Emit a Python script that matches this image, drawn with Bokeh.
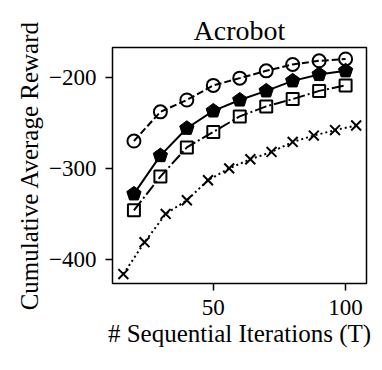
from bokeh.plotting import figure
from bokeh.embed import file_html
from bokeh.resources import INLINE
from bokeh.models import FixedTicker, Range1d

# data
x_main = [20, 30, 40, 50, 60, 70, 80, 90, 100]
y_circle = [-270, -238, -225, -209, -201, -193, -186, -182, -180]
y_pent = [-328, -286, -256, -237, -225, -215, -204, -197, -193]
y_square = [-346, -309, -277, -260, -243, -232, -224, -215, -209]
x_cross = [16, 24, 32, 40, 48, 56, 64, 72, 80, 88, 96, 104]
y_cross = [-416, -381, -350, -335, -313, -300, -290, -282, -271, -264, -258, -253]
x_ticks = [50, 100]
y_ticks = [-400, -300, -200]
y_tick_labels = ["\u2212400", "\u2212300", "\u2212200"]
x_label = "# Sequential Iterations (T)"
y_label = "Cumulative Average Reward"
title = "Acrobot"

FONT = "Liberation Serif"
X0, X1 = 11.9, 107.9
Y0, Y1 = -426.3, -167.4

p = figure(width=374, height=362, output_backend="svg", toolbar_location=None,
           x_range=Range1d(X0, X1), y_range=Range1d(Y0, Y1),
           min_border_left=112, min_border_right=8, min_border_top=47, min_border_bottom=79)

p.title.text = title
p.title.text_font = FONT
p.title.text_font_size = "28px"
p.title.text_font_style = "normal"
p.title.text_color = "black"
p.title.align = "center"
p.title.standoff = 4

p.xgrid.visible = False
p.ygrid.visible = False
p.outline_line_color = "black"
p.outline_line_width = 1.5
p.outline_line_alpha = 1

p.axis.axis_line_color = None
p.axis.minor_tick_line_color = None
p.axis.major_tick_line_color = "black"
p.axis.major_tick_line_width = 1.5
p.axis.major_tick_out = 7
p.axis.major_tick_in = 0
p.axis.major_label_text_font = FONT
p.axis.major_label_text_font_size = "23px"
p.axis.major_label_text_color = "black"
p.axis.axis_label_text_font = FONT
p.axis.axis_label_text_font_size = "25px"
p.axis.axis_label_text_font_style = "normal"
p.axis.axis_label_text_color = "black"

p.xaxis.ticker = FixedTicker(ticks=x_ticks)
p.yaxis.ticker = FixedTicker(ticks=y_ticks)
p.yaxis.major_label_overrides = dict(zip(y_ticks, y_tick_labels))
p.xaxis.axis_label = x_label
p.yaxis.axis_label = y_label
p.xaxis.major_label_standoff = 9
p.yaxis.major_label_standoff = 9
p.xaxis.axis_label_standoff = 2
p.yaxis.axis_label_standoff = 3

lw = 2
# circles dashed
p.line(x_main, y_circle, line_color="black", line_width=lw, line_dash="7 3")
p.scatter(x_main, y_circle, marker="circle", size=13, fill_color=None,
          line_color="black", line_width=lw)
# pentagon solid
p.line(x_main, y_pent, line_color="black", line_width=lw)
p.ngon(x=x_main, y=y_pent, radius=7.5, radius_units="screen", n=5,
       fill_color="black", line_color="black", line_width=1)
# squares dash-dot
p.line(x_main, y_square, line_color="black", line_width=lw, line_dash="12 3 2 3")
p.scatter(x_main, y_square, marker="square", size=12, fill_color=None,
          line_color="black", line_width=lw)
# crosses dotted
p.line(x_cross, y_cross, line_color="black", line_width=lw, line_dash="2 3")
p.scatter(x_cross, y_cross, marker="x", size=14, line_color="black", line_width=lw)

open("out.html", "w").write(file_html(p, INLINE))
